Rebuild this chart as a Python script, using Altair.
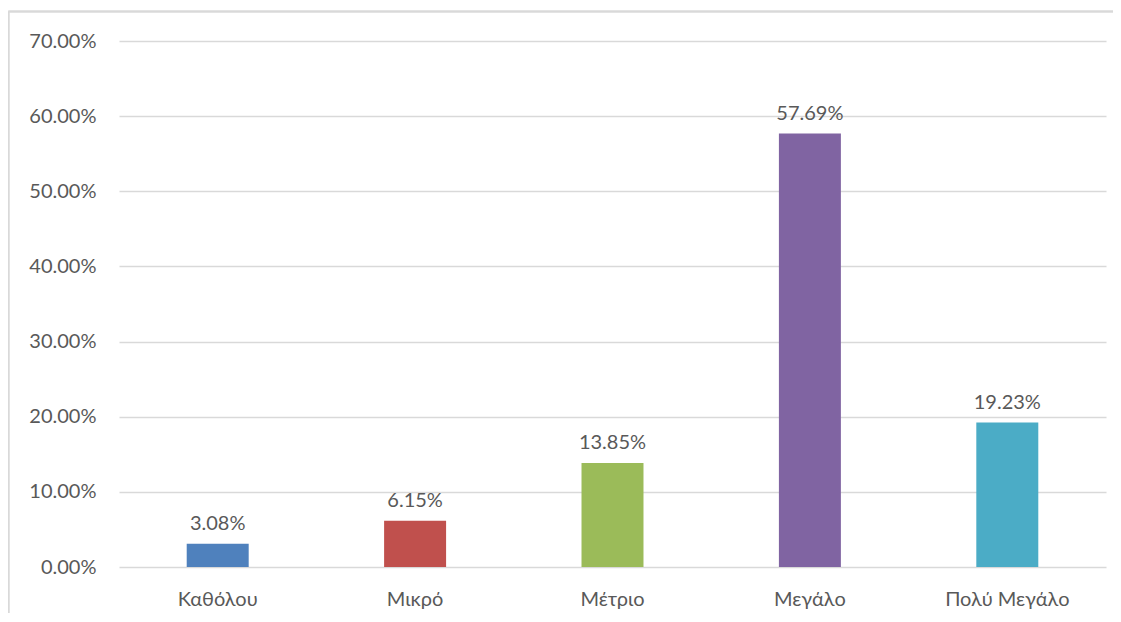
import altair as alt
import pandas as pd

categories = ["Καθόλου", "Μικρό", "Μέτριο", "Μεγάλο", "Πολύ Μεγάλο"]
values = [0.0308, 0.0615, 0.1385, 0.5769, 0.1923]
colors = ["#4F81BD", "#C0504D", "#9BBB59", "#8064A2", "#4BACC6"]

df = pd.DataFrame({"cat": categories, "val": values})

FONT = "Lato"
FS = 20
TXT = "#595959"

x = alt.X("cat:N", sort=categories, title=None,
          scale=alt.Scale(paddingInner=0.686, paddingOuter=0.343),
          axis=alt.Axis(labelAngle=0, ticks=False, domain=False, labelPadding=22,
                        labelFont=FONT, labelFontSize=FS, labelColor=TXT))
y = alt.Y("val:Q", title=None,
          scale=alt.Scale(domain=[0, 0.7], nice=False),
          axis=alt.Axis(format=".2%", values=[0, 0.1, 0.2, 0.3, 0.4, 0.5, 0.6, 0.7],
                        ticks=False, domain=False, labelPadding=23,
                        labelFont=FONT, labelFontSize=FS, labelColor=TXT,
                        gridColor="#D9D9D9", gridWidth=1.5))

bars = alt.Chart(df).mark_bar().encode(
    x=x, y=y,
    color=alt.Color("cat:N", sort=categories,
                    scale=alt.Scale(domain=categories, range=colors), legend=None),
)
labels = alt.Chart(df).mark_text(baseline="bottom", dy=-10, font=FONT, fontSize=FS,
                                 color=TXT).encode(
    x=alt.X("cat:N", sort=categories), y="val:Q", text=alt.Text("val:Q", format=".2%"))

border_left = alt.Chart(df).mark_rule(color="#D9D9D9", strokeWidth=1.5).encode(
    x=alt.value(-110.5), y=alt.value(-29.5), y2=alt.value(600))
border_top = alt.Chart(df).mark_rule(color="#D9D9D9", strokeWidth=1.5).encode(
    x=alt.value(-110.5), x2=alt.value(1010), y=alt.value(-29.5))

chart = alt.layer(bars, labels, border_left, border_top).properties(
    width=987, height=526,
    autosize=alt.AutoSizeParams(type="none"),
    padding={"left": 111, "top": 33, "right": 7, "bottom": 46},
).configure_view(stroke=None)

chart.save("out.html", embed_options={"renderer": "svg", "actions": False})
